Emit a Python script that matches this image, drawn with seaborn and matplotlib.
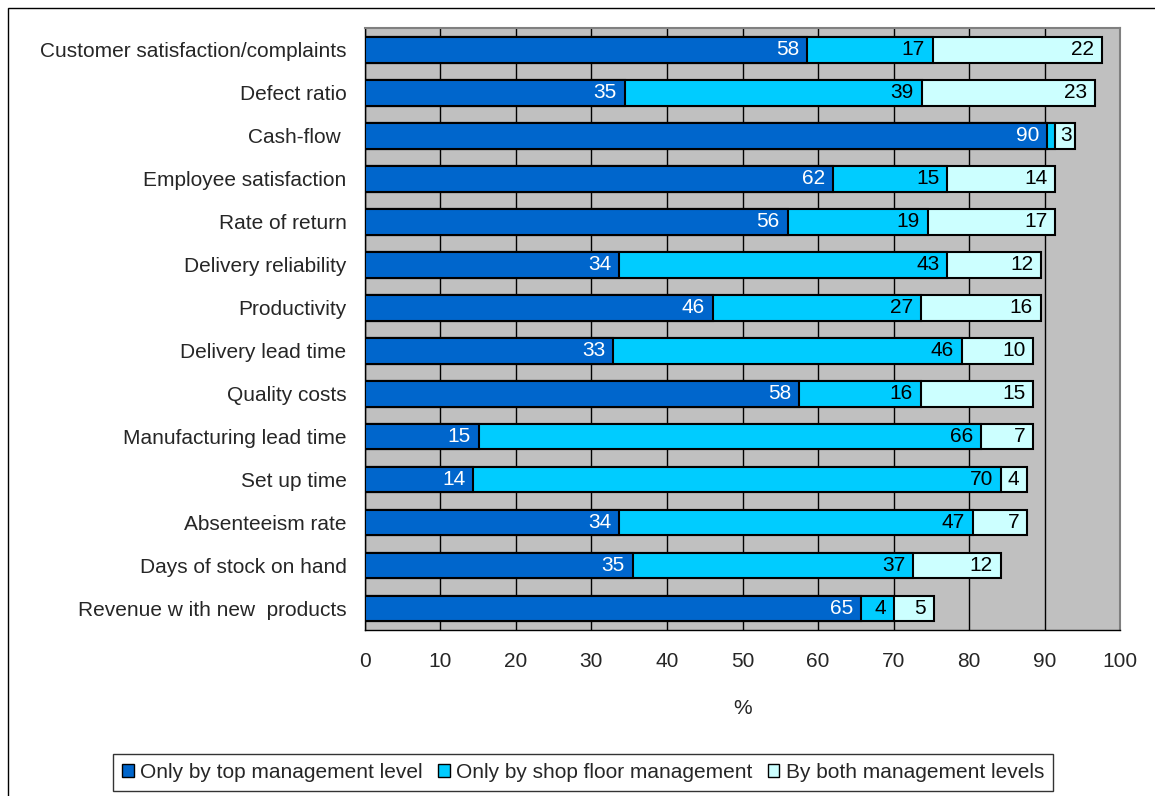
import matplotlib.pyplot as plt
import numpy as np
import pandas as pd
import seaborn as sns
from matplotlib.patches import Patch, Rectangle

# indicators, top to bottom
indicators = [
    "Customer satisfaction/complaints", "Defect ratio", "Cash-flow ",
    "Employee satisfaction", "Rate of return", "Delivery reliability",
    "Productivity", "Delivery lead time", "Quality costs",
    "Manufacturing lead time", "Set up time", "Absenteeism rate",
    "Days of stock on hand", "Revenue w ith new  products",
]

# segment lengths (%)
top_mgmt = [58.6, 34.4, 90.3, 62.0, 56.0, 33.7, 46.1, 32.9, 57.5, 15.1, 14.4, 33.7, 35.5, 65.7]
shop_floor = [16.6, 39.3, 1.1, 15.1, 18.5, 43.4, 27.5, 46.1, 16.1, 66.5, 69.8, 46.8, 37.1, 4.3]
both_levels = [22.3, 23.0, 2.6, 14.3, 16.9, 12.4, 15.9, 9.5, 14.9, 6.9, 3.5, 7.2, 11.6, 5.3]

# data labels as printed in the chart
top_lbl = ["58", "35", "90", "62", "56", "34", "46", "33", "58", "15", "14", "34", "35", "65"]
shop_lbl = ["17", "39", "", "15", "19", "43", "27", "46", "16", "66", "70", "47", "37", "4"]
both_lbl = ["22", "23", "3", "14", "17", "12", "16", "10", "15", "7", "4", "7", "12", "5"]

series_names = ["Only by top management level", "Only by shop floor management",
                "By both management levels"]
colors = ["#0066CC", "#00CCFF", "#CCFFFF"]
text_colors = ["white", "black", "black"]

sns.set_style("white")
plt.rcParams["font.family"] = ["Liberation Sans", "DejaVu Sans"]
plt.rcParams["font.size"] = 15

df = pd.DataFrame({
    "indicator": indicators,
    "top": top_mgmt,
    "shop": shop_floor,
    "both": both_levels,
})
df["c1"] = df["top"]
df["c2"] = df["top"] + df["shop"]
df["c3"] = df["c2"] + df["both"]

W, H = 1155, 796
fig = plt.figure(figsize=(W / 100, H / 100), dpi=100)
ax = fig.add_axes([364.6 / W, 1 - 630 / H, (1120.4 - 364.6) / W, (630 - 28.3) / H])
ax.set_facecolor("#C0C0C0")

# stacked bars: draw cumulative totals from the longest down
for col, c in zip(["c3", "c2", "c1"], colors[::-1]):
    sns.barplot(data=df, x=col, y="indicator", orient="h", order=indicators,
                color=c, saturation=1, width=0.6, edgecolor="black",
                linewidth=1.5, ax=ax, zorder=3)

# data labels, inside end of each segment
starts = [np.zeros(len(df)), df["c1"].values, df["c2"].values]
ends = [df["c1"].values, df["c2"].values, df["c3"].values]
labels = [top_lbl, shop_lbl, both_lbl]
px = 100 / 755.8
for s, e, lbls, tc in zip(starts, ends, labels, text_colors):
    for i, lab in enumerate(lbls):
        if not lab:
            continue
        tw = 11.5 * len(lab) * px
        if (e[i] - s[i]) < tw + 12 * px:
            ax.text((s[i] + e[i]) / 2 + 1 * px, i, lab, ha="center", va="center",
                    color=tc, fontsize=15, zorder=5)
        else:
            ax.text(e[i] - 8 * px, i, lab, ha="right", va="center",
                    color=tc, fontsize=15, zorder=5)

ax.set_xlim(0, 100)
ax.set_ylim(len(indicators) - 0.5, -0.5)
ax.set_xticks(np.arange(0, 101, 10))
ax.xaxis.grid(True, color="black", linewidth=1)
ax.yaxis.grid(False)
ax.set_axisbelow(True)

ax.set_yticks(np.arange(-0.5, len(indicators), 1), minor=True)
ax.tick_params(axis="y", which="major", length=0, pad=13, labelsize=15)
ax.tick_params(axis="y", which="minor", length=5, width=1, color="black", direction="out")
ax.tick_params(axis="x", length=4, width=1, color="black", direction="out", pad=12, labelsize=15)
ax.set_ylabel("")
ax.set_xlabel("%", fontsize=15, labelpad=20)

for side in ["left", "bottom"]:
    ax.spines[side].set_color("black")
    ax.spines[side].set_linewidth(1)
for side in ["top", "right"]:
    ax.spines[side].set_color("#808080")
    ax.spines[side].set_linewidth(1.5)

handles = [Patch(facecolor=c, edgecolor="black", linewidth=1) for c in colors]
leg = fig.legend(handles, series_names, loc="center", bbox_to_anchor=(583 / W, 1 - 772.5 / H),
                 ncol=3, frameon=True, fancybox=False, edgecolor="black", fontsize=15,
                 handlelength=0.55, handleheight=0.6, handletextpad=0.3, columnspacing=0.75,
                 borderpad=0.45, borderaxespad=0)
leg.get_frame().set_linewidth(1)

# chart area border
fig.patches.append(Rectangle((7.5 / W, -0.05), 1.2, 1.05 - 7.5 / H, transform=fig.transFigure,
                             fill=False, edgecolor="black", linewidth=1, zorder=0))

fig.savefig("out.png", dpi=100)
